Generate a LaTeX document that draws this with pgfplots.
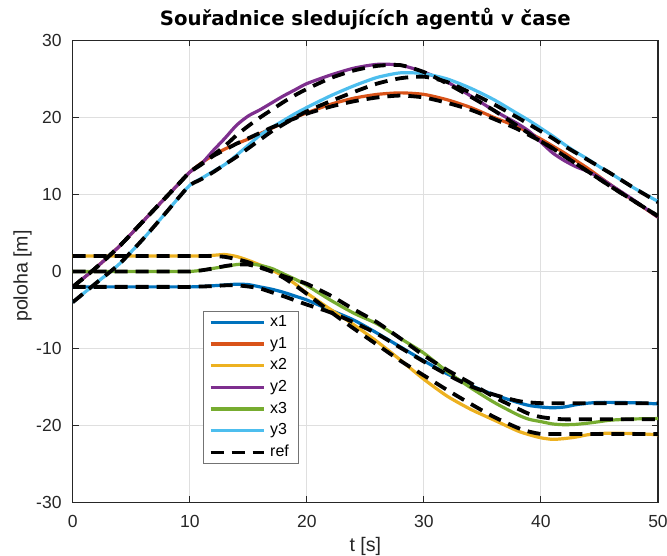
\documentclass[border=0pt]{standalone}
\usepackage{fontspec}
\setmainfont{Liberation Sans}
\newfontfamily\titlefont{DejaVu Sans}
\usepackage{pgfplots}
\pgfplotsset{compat=1.18}
\usepackage{pgfplotstable}
\definecolor{c1}{RGB}{0,114,189}
\definecolor{c2}{RGB}{217,83,25}
\definecolor{c3}{RGB}{237,177,32}
\definecolor{c4}{RGB}{126,47,142}
\definecolor{c5}{RGB}{119,172,48}
\definecolor{c6}{RGB}{77,190,238}
\definecolor{axc}{RGB}{38,38,38}

% actual trajectories
\pgfplotstableread{
t   x1     y1     x2     y2     x3     y3
0   -2     -2     2      -2     0      -4
2   -2     0.5    2      0.5    0      -1.5
4   -2     3.3    2      3.3    0      1.0
6   -2     6.5    2      6.5    0      4.2
8   -2     9.7    2      9.7    0      7.7
9   -2     11.3   2      11.3   0      9.5
10  -2     12.9   2      12.9   0      11.2
11  -1.95  14.1   2.02   14.0   0.15   12.1
12  -1.85  15.1   2.1    15.7   0.4    13.0
13  -1.75  15.9   2.2    17.3   0.65   13.9
14  -1.65  16.6   1.95   19.0   0.9    15.1
15  -1.7   17.2   1.45   20.2   1.0    16.4
16  -2.0   17.9   0.85   21.0   0.8    17.7
17  -2.3   18.6   0.2    21.9   0.4    18.7
18  -2.7   19.3   -0.6   22.8   -0.3   19.6
19  -3.2   20.0   -1.6   23.6   -1.0   20.5
20  -3.7   20.6   -2.8   24.4   -1.8   21.3
22  -5.0   21.7   -4.9   25.5   -3.7   22.8
24  -6.3   22.5   -6.9   26.4   -5.4   24.1
26  -8.0   23.0   -9.1   26.9   -6.8   25.2
28  -9.8   23.2   -11.5  26.8   -8.7   25.8
30  -11.6  23.0   -14.0  25.9   -10.6  25.7
32  -13.3  22.3   -16.2  24.6   -13.0  25.0
34  -14.8  21.3   -17.9  22.8   -15.1  23.8
36  -16.0  20.0   -19.3  20.9   -17.0  22.3
38  -17.0  18.8   -20.7  19.2   -18.6  20.5
39  -17.4  18.0   -21.2  18.2   -19.2  19.6
40  -17.6  17.2   -21.6  16.8   -19.5  18.6
41  -17.7  16.3   -21.8  15.4   -19.8  17.6
42  -17.6  15.4   -21.7  14.4   -19.9  16.5
43  -17.3  14.4   -21.5  13.6   -19.85 15.5
44  -17.1  13.4   -21.2  13.0   -19.7  14.6
45  -17.0  12.3   -21.05 12.2   -19.5  13.6
46  -17.0  11.2   -21.0  11.2   -19.3  12.7
48  -17.05 9.1    -21.05 9.2    -19.15 10.8
50  -17.2  7.05   -21.2  7.05   -19.1  9.1
}\act

% reference trajectories
\pgfplotstableread{
t   rx1    ry1    rx2    ry2    rx3    ry3
0   -2     -2     2      -2     0      -4
2   -2     0.5    2      0.5    0      -1.5
4   -2     3.3    2      3.3    0      1.0
6   -2     6.5    2      6.5    0      4.2
8   -2     9.7    2      9.7    0      7.7
9   -2     11.3   2      11.3   0      9.5
10  -2     12.9   2      12.9   0      11.2
11  -1.95  14.0   2      13.9   0.15   12.0
12  -1.9   15.0   2      15.1   0.4    12.9
13  -1.8   15.8   1.9    16.3   0.7    13.9
14  -1.8   16.6   1.6    17.7   0.9    14.9
15  -1.95  17.3   1.2    18.9   0.9    16.0
16  -2.2   18.0   0.6    20.0   0.5    17.1
17  -2.7   18.7   0.0    21.0   0.0    18.2
18  -3.2   19.3   -0.8   22.0   -0.6   19.1
19  -3.75  19.9   -1.8   22.9   -1.1   20.0
20  -4.3   20.5   -2.9   23.7   -1.6   20.8
22  -5.3   21.4   -5.2   25.1   -3.1   22.1
24  -6.6   22.1   -7.4   26.1   -4.9   23.3
26  -8.1   22.6   -9.5   26.7   -6.6   24.4
28  -9.9   22.85  -11.6  26.8   -8.7   25.1
30  -11.7  22.6   -13.5  25.9   -10.9  25.3
32  -13.4  21.9   -15.4  24.4   -12.8  24.6
34  -14.9  21.0   -17.2  22.7   -14.5  23.2
36  -16.0  19.8   -18.9  20.9   -16.3  21.7
38  -16.8  18.5   -20.3  18.9   -17.8  20.0
39  -17.0  17.7   -20.8  17.9   -18.5  19.1
40  -17.1  16.9   -21.1  16.9   -18.9  18.2
41  -17.1  16.0   -21.1  16.0   -19.1  17.3
42  -17.1  15.0   -21.1  15.0   -19.2  16.3
43  -17.1  14.0   -21.1  14.0   -19.2  15.4
44  -17.1  13.0   -21.1  13.0   -19.2  14.5
45  -17.1  12.0   -21.1  12.0   -19.2  13.6
46  -17.1  11.0   -21.1  11.0   -19.2  12.7
48  -17.1  9.1    -21.1  9.1    -19.2  10.8
50  -17.1  7.2    -21.1  7.2    -19.2  9.0
}\refd

\begin{document}
\begin{tikzpicture}
\path[use as bounding box] (-72.7pt,-53.5pt) rectangle (594.3pt,502.5pt);
\begin{axis}[
  at={(0,0)}, anchor=south west,
  scale only axis, width=585.3pt, height=462pt,
  xmin=0, xmax=50, ymin=-30, ymax=30,
  xtick={0,10,20,30,40,50}, ytick={-30,-20,-10,0,10,20,30},
  /pgf/number format/assume math mode=true,
  grid=major,
  major grid style={gray!25, line width=0.9pt},
  axis line style={axc, line width=1.1pt},
  every tick/.style={axc, line width=1.1pt},
  tick align=inside, major tick length=6pt,
  ticklabel style={font=\fontsize{17.5}{20}\selectfont, text=axc},
  xticklabel style={anchor=north, inner sep=0pt, yshift=-12.7pt},
  yticklabel style={anchor=east, inner sep=0pt, xshift=-11pt},
  xlabel={t [s]},
  xlabel style={at={(axis description cs:0.5,-0.105)}, anchor=base, font=\fontsize{19.6}{22}\selectfont, text=axc},
  ylabel={poloha [m]},
  ylabel style={at={(axis description cs:-0.0772,0.49)}, anchor=base, font=\fontsize{19.6}{22}\selectfont, text=axc},
  title={Souřadnice sledujících agentů v čase},
  title style={at={(axis description cs:0.5,1.0195)}, anchor=base, font=\titlefont\bfseries\fontsize{19.7}{22}\selectfont},
  legend cell align=left,
  legend style={at={(axis description cs:0.2221,0.4145)}, anchor=north west,
    draw=black!55, line width=0.8pt, fill=white,
    inner xsep=5.6pt, inner ysep=3pt, row sep=5.67pt,
    font=\fontsize{16}{18}\selectfont,
    nodes={inner sep=0pt, text height=12pt, text depth=4pt},
    /tikz/every odd column/.append style={column sep=4.3pt}},
  legend image code/.code={\draw[#1] (0pt,0pt) -- (53.4pt,0pt);},
]
\addplot[c1, line width=3.2pt, smooth, tension=0.4] table[x=t,y=x1]{\act};
\addlegendentry{\makebox[22.7pt][l]{x1}}
\addplot[c2, line width=3.2pt, smooth, tension=0.4] table[x=t,y=y1]{\act};
\addlegendentry{\makebox[22.7pt][l]{y1}}
\addplot[c3, line width=3.2pt, smooth, tension=0.4] table[x=t,y=x2]{\act};
\addlegendentry{\makebox[22.7pt][l]{x2}}
\addplot[c4, line width=3.2pt, smooth, tension=0.4] table[x=t,y=y2]{\act};
\addlegendentry{\makebox[22.7pt][l]{y2}}
\addplot[c5, line width=3.2pt, smooth, tension=0.4] table[x=t,y=x3]{\act};
\addlegendentry{\makebox[22.7pt][l]{x3}}
\addplot[c6, line width=3.2pt, smooth, tension=0.4] table[x=t,y=y3]{\act};
\addlegendentry{\makebox[22.7pt][l]{y3}}
\addplot[black, line width=3.8pt, dash pattern=on 13pt off 8pt, smooth, tension=0.4] table[x=t,y=rx1]{\refd};
\addlegendentry{\makebox[22.7pt][l]{ref}}
\addplot[forget plot, black, line width=3.8pt, dash pattern=on 13pt off 8pt, smooth, tension=0.4] table[x=t,y=ry1]{\refd};
\addplot[forget plot, black, line width=3.8pt, dash pattern=on 13pt off 8pt, smooth, tension=0.4] table[x=t,y=rx2]{\refd};
\addplot[forget plot, black, line width=3.8pt, dash pattern=on 13pt off 8pt, smooth, tension=0.4] table[x=t,y=ry2]{\refd};
\addplot[forget plot, black, line width=3.8pt, dash pattern=on 13pt off 8pt, smooth, tension=0.4] table[x=t,y=rx3]{\refd};
\addplot[forget plot, black, line width=3.8pt, dash pattern=on 13pt off 8pt, smooth, tension=0.4] table[x=t,y=ry3]{\refd};
\end{axis}
\end{tikzpicture}
\end{document}
